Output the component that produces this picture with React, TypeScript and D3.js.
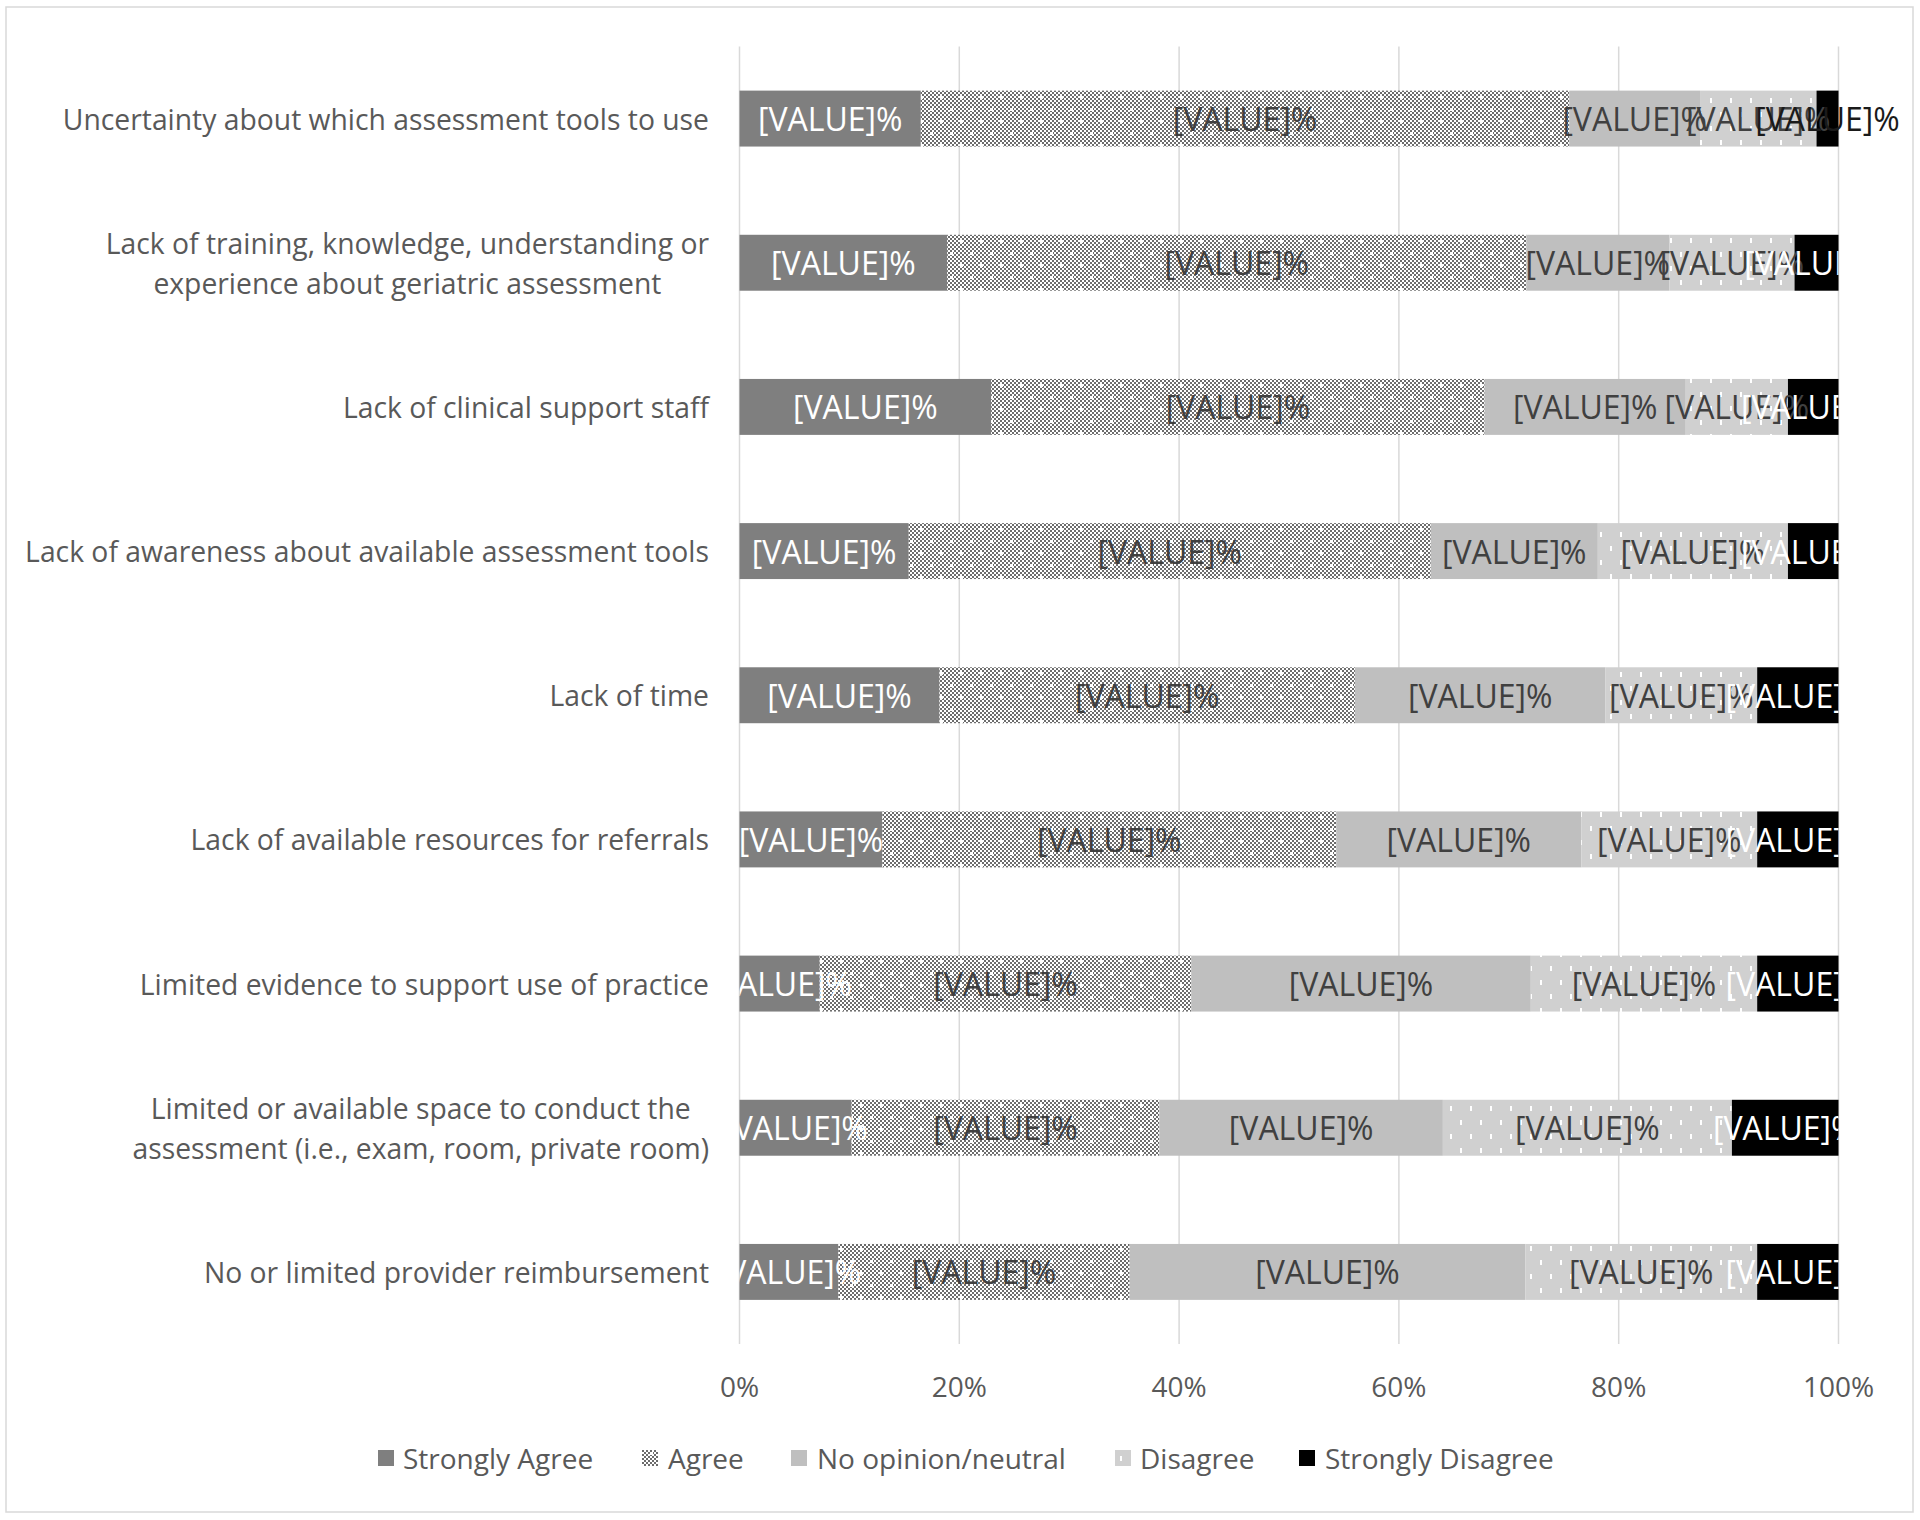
import React from "react";
import * as d3 from "d3";

const categories: string[][] = [
  ["Uncertainty about which assessment tools to use"],
  ["Lack of training, knowledge, understanding or", "experience about geriatric assessment"],
  ["Lack of clinical support staff"],
  ["Lack of awareness about available assessment tools"],
  ["Lack of time"],
  ["Lack of available resources for referrals"],
  ["Limited evidence to support use of practice"],
  ["Limited or available space to conduct the", "assessment (i.e., exam, room, private room)"],
  ["No or limited provider reimbursement"],
];

const seriesNames = ["Strongly Agree", "Agree", "No opinion/neutral", "Disagree", "Strongly Disagree"];
const strongAgree = [16.5, 18.9, 22.9, 15.4, 18.2, 13.0, 7.3, 10.2, 9.0];
const agree = [59.0, 52.7, 44.9, 47.5, 37.8, 41.3, 33.8, 28.0, 26.5];
const neutral = [11.9, 13.0, 18.3, 15.2, 22.8, 22.3, 30.9, 25.8, 36.0];
const disagree = [10.6, 11.4, 9.3, 17.3, 13.8, 16.0, 20.6, 26.3, 21.1];
const strongDisagree = [2.0, 4.0, 4.6, 4.6, 7.4, 7.4, 7.4, 9.7, 7.4];
const tickValues = [0, 20, 40, 60, 80, 100];
const labelText = "[VALUE]%";

const FONT = "'Open Sans', 'Noto Sans', sans-serif";
const TXT = "#595959";

const fills = ["#7f7f7f", "url(#pAgree)", "#bfbfbf", "url(#pDis)", "#000000"];
const labelColors = ["#ffffff", "#404040", "#404040", "#404040", "#ffffff"];

function measure(text: string, size: number): number {
  const c = document.createElement("canvas");
  const ctx = c.getContext("2d")!;
  ctx.font = `${size}px 'Open Sans'`;
  return ctx.measureText(text).width;
}

export default function App() {
  const W = 1920, H = 1520;
  const x0 = 739.5, x1 = 1838.5;
  const yTop = 46.5, yBot = 1344;
  const x = d3.scaleLinear().domain([0, 100]).range([x0, x1]);
  const keys = categories.map((c) => c.join(" "));
  const y = d3.scaleBand<string>().domain(keys).range([yTop, yBot]).paddingInner(0.612).paddingOuter(0.306);

  const rows = keys.map((k, i) => ({
    key: k,
    s0: strongAgree[i], s1: agree[i], s2: neutral[i], s3: disagree[i], s4: strongDisagree[i],
  }));
  const stack = d3.stack<any>().keys(["s0", "s1", "s2", "s3", "s4"]);
  const layers = stack(rows);

  const labelRight = 709;
  const catFont = 28.3;

  const legendItems = [
    { mx: 378, tx: 403 },
    { mx: 642, tx: 668 },
    { mx: 791, tx: 817 },
    { mx: 1115, tx: 1140 },
    { mx: 1299, tx: 1325 },
  ];
  const legendY = 1458;

  return (
    <svg width={W} height={H} style={{ position: "absolute", left: 0, top: 0, background: "#fff" }}>
      <defs>
        <pattern id="pAgree" patternUnits="userSpaceOnUse" width={20} height={24}>
          <rect width={20} height={24} fill="#ffffff" />
          {d3.range(0, 20, 2).flatMap((px) =>
            d3.range(0, 24, 2).filter((py) => ((px + py) / 2) % 2 === 0).map((py) => (
              <rect key={`${px}-${py}`} x={px} y={py} width={2} height={2} fill="#6c6c6c" />
            ))
          )}
          <rect x={0} y={0} width={3} height={3} fill="#ffffff" />
          <rect x={10} y={12} width={3} height={3} fill="#ffffff" />
        </pattern>
        <pattern id="pDis" patternUnits="userSpaceOnUse" width={20} height={28}>
          <rect width={20} height={28} fill="#d0d0d0" />
          <rect x={0} y={0} width={2} height={5} fill="#ffffff" />
          <rect x={10} y={14} width={2} height={5} fill="#ffffff" />
        </pattern>
        <clipPath id="plotClip">
          <rect x={x0} y={0} width={x1 - x0} height={H} />
        </clipPath>
      </defs>

      <rect x={6} y={7} width={1907} height={1505} fill="#fff" stroke="#d9d9d9" strokeWidth={1.5} />

      {tickValues.map((t) => (
        <line key={t} x1={x(t)} x2={x(t)} y1={yTop} y2={yBot} stroke="#d9d9d9" strokeWidth={1.5} />
      ))}

      {layers.map((layer, li) =>
        layer.map((d, i) => (
          <rect
            key={`${li}-${i}`}
            x={x(d[0])}
            y={y(keys[i])!}
            width={x(d[1]) - x(d[0])}
            height={y.bandwidth()}
            fill={fills[li]}
          />
        ))
      )}

      {layers.map((layer, li) =>
        layer.map((d, i) => {
          const v = d[1] - d[0];
          const tiny = v < 3;
          const cx = x((d[0] + d[1]) / 2);
          const cy = y(keys[i])! + y.bandwidth() / 2;
          return (
            <text
              key={`l${li}-${i}`}
              x={cx}
              y={cy}
              textAnchor="middle"
              dominantBaseline="central"
              fontFamily={FONT}
              fontSize={32}
              fill={tiny ? "#1a1a1a" : labelColors[li]}
              clipPath={tiny ? undefined : "url(#plotClip)"}
            >
              {labelText}
            </text>
          );
        })
      )}

      {categories.map((lines, i) => {
        const cy = y(keys[i])! + y.bandwidth() / 2;
        if (lines.length === 1) {
          return (
            <text key={`c${i}`} x={labelRight} y={cy} textAnchor="end" dominantBaseline="central"
              fontFamily={FONT} fontSize={catFont} fill={TXT}>
              {lines[0]}
            </text>
          );
        }
        const maxW = Math.max(...lines.map((l) => measure(l, catFont)));
        const cx = labelRight - maxW / 2;
        const lh = 40;
        return (
          <g key={`c${i}`}>
            {lines.map((l, j) => (
              <text key={j} x={cx} y={cy + (j - (lines.length - 1) / 2) * lh} textAnchor="middle"
                dominantBaseline="central" fontFamily={FONT} fontSize={catFont} fill={TXT}>
                {l}
              </text>
            ))}
          </g>
        );
      })}

      {tickValues.map((t) => (
        <text key={`t${t}`} x={x(t)} y={1386} textAnchor="middle" dominantBaseline="central"
          fontFamily={FONT} fontSize={28} fill={TXT}>
          {`${t}%`}
        </text>
      ))}

      {seriesNames.map((n, i) => (
        <g key={`lg${i}`}>
          <rect x={legendItems[i].mx} y={legendY - 8} width={16} height={16} fill={fills[i]} />
          <text x={legendItems[i].tx} y={legendY} dominantBaseline="central" fontFamily={FONT}
            fontSize={28} fill={TXT}>
            {n}
          </text>
        </g>
      ))}
    </svg>
  );
}
